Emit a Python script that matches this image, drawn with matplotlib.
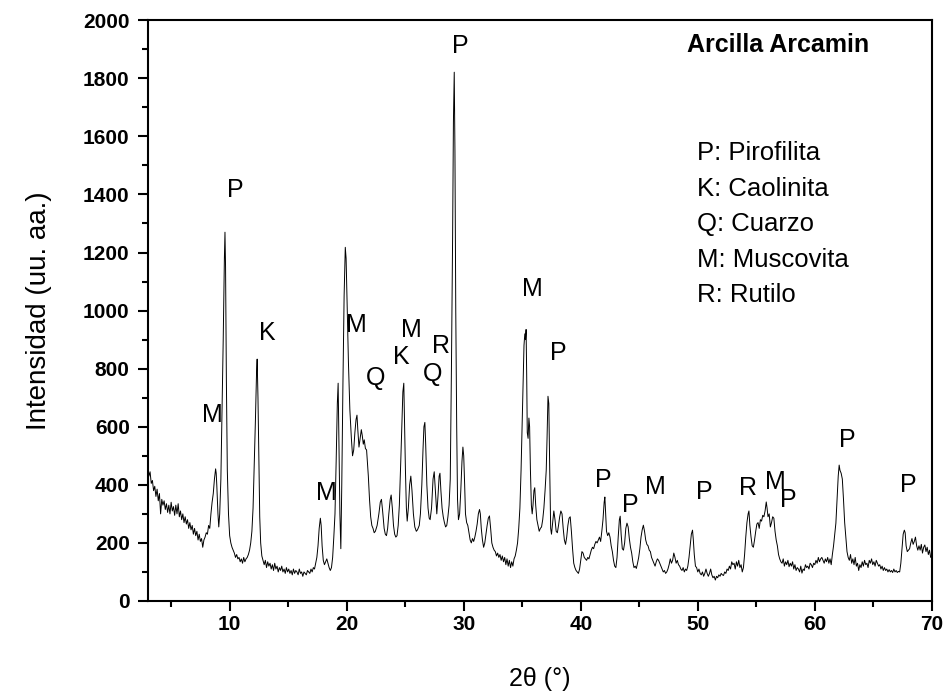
import matplotlib
matplotlib.use("Agg")
import matplotlib.pyplot as plt
from matplotlib.ticker import MultipleLocator

plt.rcParams['font.family'] = ['Liberation Sans', 'DejaVu Sans']

# XRD pattern, read in segments (2theta in degrees, intensity in a.u.)
two_theta_a = [
    3.0, 3.1, 3.2, 3.3, 3.4, 3.5, 3.6, 3.7, 3.8, 3.9,
    4.0, 4.1, 4.2, 4.3, 4.4, 4.5, 4.6, 4.7, 4.8, 4.9,
    5.0, 5.1, 5.2, 5.3, 5.4, 5.5, 5.6, 5.7, 5.8, 5.9,
    6.0, 6.1, 6.2, 6.3, 6.4, 6.5, 6.6, 6.7, 6.8, 6.9,
    7.0, 7.1, 7.2, 7.3, 7.4, 7.5, 7.6, 7.7, 7.8, 7.9,
    8.0, 8.1, 8.2, 8.3, 8.4, 8.5, 8.6, 8.7, 8.8, 8.85,
    8.9, 9.0, 9.07, 9.15, 9.25, 9.35, 9.45, 9.55, 9.6, 9.65,
    9.72, 9.8, 9.9, 10.0, 10.1, 10.2, 10.3, 10.4, 10.5, 10.6,
    10.7, 10.8, 10.9, 11.0, 11.1, 11.2, 11.3, 11.4, 11.5, 11.6,
    11.7, 11.8, 11.9, 12.0, 12.1, 12.2, 12.3, 12.35, 12.42, 12.5,
    12.57, 12.65]
counts_a = [
    470, 430, 445, 405, 415, 380, 395, 360, 385, 345,
    370, 300, 350, 330, 345, 315, 335, 305, 330, 300,
    340, 310, 325, 295, 330, 300, 335, 290, 310, 280,
    300, 270, 290, 265, 280, 250, 270, 245, 260, 230,
    250, 225, 240, 210, 230, 205, 215, 185, 210, 220,
    235, 230, 260, 250, 300, 340, 370, 420, 455, 440,
    400, 300, 255, 300, 420, 650, 900, 1180, 1270, 1150,
    760, 450, 300, 225, 200, 185, 175, 165, 150, 160,
    145, 150, 135, 145, 130, 150, 135, 145, 150, 160,
    175, 200, 240, 320, 470, 620, 790, 833, 700, 480,
    290, 200]

two_theta_b = [
    12.75, 12.85, 12.95, 13.05, 13.15, 13.25, 13.35, 13.45, 13.55, 13.65,
    13.75, 13.85, 13.95, 14.05, 14.15, 14.25, 14.35, 14.45, 14.55, 14.65,
    14.75, 14.85, 14.95, 15.05, 15.15, 15.25, 15.35, 15.45, 15.55, 15.65,
    15.75, 15.85, 15.95, 16.05, 16.15, 16.25, 16.35, 16.45, 16.55, 16.65,
    16.75, 16.85, 16.95, 17.05, 17.15, 17.25, 17.35, 17.45, 17.55, 17.65,
    17.75, 17.82, 17.9, 18.0, 18.1, 18.2, 18.3, 18.4, 18.5, 18.6,
    18.7, 18.8, 18.9, 19.0, 19.1, 19.2, 19.27, 19.35, 19.42, 19.5]
counts_b = [
    155, 140, 125, 140, 115, 135, 120, 130, 110, 125,
    105, 130, 110, 120, 100, 115, 105, 120, 100, 110,
    95, 115, 100, 110, 95, 105, 90, 110, 95, 105,
    100, 90, 110, 95, 100, 85, 100, 95, 90, 105,
    100, 95, 110, 100, 115, 110, 130, 150, 190, 250,
    285, 260, 190, 140, 125, 135, 145, 130, 115, 105,
    115, 150, 220, 300, 480, 680, 750, 500, 300, 180]

two_theta_c = [
    19.58, 19.68, 19.78, 19.88, 19.95, 20.05, 20.15, 20.27, 20.4, 20.5,
    20.6, 20.7, 20.8, 20.88, 20.95, 21.05, 21.15, 21.25, 21.33, 21.42,
    21.5, 21.6, 21.7, 21.78, 21.85, 21.95, 22.05, 22.15, 22.25, 22.35,
    22.45, 22.6, 22.75, 22.87, 22.97, 23.07, 23.2, 23.3, 23.4, 23.5,
    23.6, 23.72, 23.8, 23.9, 24.0, 24.1, 24.2, 24.3, 24.4, 24.5,
    24.62, 24.72, 24.8, 24.88, 24.95, 25.02, 25.1, 25.17, 25.27, 25.38,
    25.48, 25.58, 25.7, 25.82, 25.95, 26.05, 26.2]
counts_c = [
    400, 750, 1050, 1218, 1180, 1000, 820, 660, 560, 500,
    520, 580, 625, 640, 590, 530, 560, 590, 570, 540,
    555, 525, 520, 470, 430, 350, 290, 260, 250, 235,
    240, 260, 300, 340, 350, 310, 250, 230, 225, 250,
    300, 350, 365, 320, 260, 230, 220, 225, 260, 330,
    480, 620, 720, 750, 600, 450, 320, 275, 320, 400,
    430, 380, 300, 255, 240, 245, 260]

two_theta_d = [
    26.3, 26.42, 26.52, 26.6, 26.68, 26.75, 26.85, 26.95, 27.05, 27.13,
    27.25, 27.38, 27.48, 27.58, 27.7, 27.8, 27.9, 27.97, 28.05, 28.15,
    28.25, 28.35, 28.45, 28.55, 28.65, 28.75, 28.85, 28.95, 29.05, 29.12,
    29.19, 29.25, 29.32, 29.4, 29.47, 29.55, 29.65, 29.75, 29.85, 29.93,
    30.0, 30.08, 30.15, 30.25, 30.35, 30.45, 30.55, 30.65, 30.75, 30.85,
    30.95, 31.05, 31.15, 31.25, 31.35, 31.42, 31.5, 31.6, 31.7, 31.8,
    31.9, 32.0, 32.1, 32.2, 32.3, 32.4, 32.5, 32.6, 32.7, 32.8,
    32.9, 33.0, 33.1, 33.2, 33.3, 33.4, 33.5, 33.6, 33.7, 33.8,
    33.9, 34.0, 34.1, 34.2, 34.3]
counts_d = [
    300, 400, 520, 600, 615, 540, 400, 320, 285, 280,
    320, 420, 445, 380, 300, 360, 430, 440, 380, 320,
    290, 270, 255, 260, 290, 330, 420, 800, 1250, 1650,
    1821, 1550, 1000, 600, 350, 280, 300, 380, 480, 530,
    500, 400, 300, 270, 260, 235, 210, 200, 215, 205,
    220, 240, 265, 300, 315, 300, 250, 210, 185, 200,
    230, 260, 285, 293, 250, 200, 185, 175, 170, 155,
    165, 150, 160, 140, 155, 135, 150, 125, 145, 120,
    140, 115, 135, 120, 145]

two_theta_e = [
    34.4, 34.5, 34.6, 34.7, 34.8, 34.9, 35.0, 35.08, 35.15, 35.22,
    35.28, 35.33, 35.38, 35.43, 35.5, 35.57, 35.63, 35.7, 35.78, 35.85,
    35.92, 36.0, 36.07, 36.15, 36.25, 36.35, 36.45, 36.55, 36.65, 36.75,
    36.85, 36.95, 37.05, 37.12, 37.2, 37.27, 37.35, 37.43, 37.5, 37.6,
    37.7, 37.8, 37.9, 38.0, 38.1, 38.2, 38.3, 38.4, 38.5, 38.6,
    38.7, 38.8, 38.9, 39.0, 39.1, 39.2, 39.3, 39.4, 39.5, 39.6,
    39.7, 39.8, 39.9, 40.0, 40.1, 40.2, 40.3, 40.4, 40.5, 40.6,
    40.7, 40.8, 40.9, 41.0, 41.1, 41.2, 41.3, 41.4, 41.5, 41.6,
    41.7]
counts_e = [
    155, 175, 200, 250, 320, 450, 620, 760, 880, 920,
    900, 935, 780, 580, 560, 630, 600, 450, 330, 300,
    330, 380, 390, 330, 280, 260, 240, 250, 255, 280,
    320, 380, 450, 560, 705, 680, 450, 250, 230, 270,
    310, 280, 240, 235, 260, 290, 310, 300, 250, 210,
    195, 220, 260, 285, 290, 240, 180, 130, 115, 105,
    100, 95, 110, 140, 170, 165, 150, 145, 140, 150,
    145, 160, 175, 185, 180, 195, 205, 200, 210, 220,
    205]

two_theta_f = [
    41.8, 41.9, 42.0, 42.06, 42.12, 42.2, 42.3, 42.4, 42.5, 42.6,
    42.7, 42.8, 42.9, 43.0, 43.1, 43.2, 43.3, 43.37, 43.45, 43.55,
    43.65, 43.75, 43.85, 43.95, 44.05, 44.15, 44.25, 44.35, 44.45, 44.55,
    44.65, 44.75, 44.85, 44.95, 45.05, 45.15, 45.25, 45.35, 45.45, 45.55,
    45.65, 45.75, 45.85, 45.95, 46.05, 46.15, 46.25, 46.35, 46.45, 46.55,
    46.65, 46.75, 46.85, 46.95, 47.05, 47.15, 47.25, 47.35, 47.45, 47.55,
    47.65, 47.75, 47.85, 47.95, 48.05, 48.15, 48.25, 48.35, 48.45, 48.55,
    48.65, 48.75, 48.85, 48.95, 49.05, 49.15, 49.25, 49.35, 49.45, 49.55,
    49.62, 49.7, 49.8, 49.9]
counts_f = [
    240, 280, 340, 358, 310, 240, 225, 235, 220, 190,
    170, 140, 120, 115, 150, 220, 280, 292, 230, 180,
    175, 200, 250, 268, 255, 215, 185, 165, 135, 115,
    120, 112, 130, 150, 180, 220, 245, 261, 240, 210,
    195, 190, 175, 170, 150, 140, 130, 120, 135, 145,
    140, 130, 120, 110, 100, 105, 95, 100, 110, 125,
    145, 130, 140, 165, 150, 130, 140, 125, 120, 110,
    105, 115, 100, 110, 105, 120, 150, 190, 230, 244,
    210, 160, 120, 115]

two_theta_g = [
    50.0, 50.1, 50.2, 50.3, 50.4, 50.5, 50.6, 50.7, 50.8, 50.9,
    51.0, 51.1, 51.2, 51.3, 51.4, 51.5, 51.6, 51.7, 51.8, 51.9,
    52.0, 52.1, 52.2, 52.3, 52.4, 52.5, 52.6, 52.7, 52.8, 52.9,
    53.0, 53.1, 53.2, 53.3, 53.4, 53.5, 53.6, 53.7, 53.8, 53.9,
    54.0, 54.1, 54.2, 54.3, 54.37, 54.45, 54.55, 54.65, 54.75, 54.85,
    54.95, 55.05, 55.15, 55.25, 55.35, 55.45, 55.55, 55.65, 55.75, 55.85,
    55.92, 56.0, 56.1, 56.2, 56.3, 56.4, 56.5, 56.6, 56.7, 56.8,
    56.9, 57.0, 57.1, 57.2, 57.3, 57.4, 57.5, 57.6, 57.7, 57.8,
    57.9, 58.0, 58.1, 58.2, 58.3, 58.4, 58.5, 58.6, 58.7, 58.8,
    58.9, 59.0, 59.1, 59.2, 59.3, 59.4, 59.5, 59.6, 59.7, 59.8,
    59.9]
counts_g = [
    100, 110, 95, 90, 100, 85, 95, 110, 95, 85,
    95, 110, 90, 80, 85, 72, 85, 80, 90, 85,
    95, 90, 88, 100, 95, 110, 105, 120, 110, 135,
    125, 130, 110, 135, 120, 140, 115, 125, 100, 115,
    160, 220, 270, 300, 310, 260, 220, 190, 185, 210,
    240, 265, 270, 250, 280, 275, 295, 290, 310, 341,
    320, 290, 300, 255, 270, 290, 285, 240, 210, 190,
    160, 145, 135, 130, 145, 120, 135, 125, 140, 118,
    130, 120, 135, 110, 125, 105, 115, 110, 100, 120,
    96, 110, 105, 125, 115, 120, 110, 130, 125, 115,
    130]

two_theta_h = [
    60.0, 60.1, 60.2, 60.3, 60.4, 60.5, 60.6, 60.7, 60.8, 60.9,
    61.0, 61.1, 61.2, 61.3, 61.4, 61.5, 61.6, 61.7, 61.8, 61.9,
    62.0, 62.08, 62.15, 62.25, 62.35, 62.45, 62.55, 62.65, 62.75, 62.85,
    62.95, 63.05, 63.15, 63.25, 63.35, 63.45, 63.55, 63.65, 63.75, 63.85,
    63.95, 64.05, 64.15, 64.25, 64.35, 64.45, 64.55, 64.65, 64.75, 64.85,
    64.95, 65.05, 65.15, 65.25, 65.35, 65.45, 65.55, 65.65, 65.75, 65.85,
    65.95, 66.05, 66.15, 66.25, 66.35, 66.45, 66.55, 66.65, 66.75, 66.85,
    66.95, 67.05, 67.15, 67.25, 67.35, 67.45, 67.55, 67.65, 67.72, 67.8,
    67.9, 68.0, 68.1, 68.2, 68.3, 68.4, 68.5, 68.6, 68.7, 68.8,
    68.9, 69.0, 69.1, 69.2, 69.3, 69.4, 69.5, 69.6, 69.7, 69.8,
    69.9, 70.0]
counts_h = [
    125, 140, 130, 150, 135, 145, 150, 140, 130, 145,
    135, 150, 130, 145, 125, 160, 190, 230, 268, 350,
    430, 468, 450, 440, 420, 350, 270, 220, 170, 150,
    140, 160, 130, 145, 125, 150, 120, 130, 105, 125,
    115, 135, 120, 140, 125, 130, 115, 140, 130, 145,
    125, 135, 120, 140, 130, 120, 125, 110, 120, 105,
    115, 105, 110, 100, 108, 100, 105, 98, 110, 100,
    105, 98, 102, 100, 130, 180, 230, 244, 235, 190,
    170, 175, 180, 200, 215, 195, 205, 220, 190, 175,
    190, 175, 195, 165, 185, 193, 170, 185, 160, 175,
    150, 155]

two_theta = (two_theta_a + two_theta_b + two_theta_c + two_theta_d
             + two_theta_e + two_theta_f + two_theta_g + two_theta_h)
counts = (counts_a + counts_b + counts_c + counts_d
          + counts_e + counts_f + counts_g + counts_h)

# phase labels over the peaks
peak_letters = ['M', 'P', 'K', 'M', 'M', 'Q', 'K', 'M', 'Q', 'R', 'P',
                'M', 'P', 'P', 'P', 'M', 'P', 'R', 'M', 'P', 'P', 'P']
peak_x = [8.56, 10.5, 13.26, 18.3, 20.86, 22.5, 24.7, 25.56, 27.36, 28.04, 29.75,
          35.9, 38.04, 41.97, 44.2, 46.4, 50.6, 54.3, 56.6, 57.7, 62.8, 68.0]
peak_y = [640, 1415, 922, 372, 950, 768, 840, 933, 781, 878, 1910,
          1074, 854, 416, 330, 392, 375, 389, 410, 348, 554, 399]

phases = ['P: Pirofilita', 'K: Caolinita', 'Q: Cuarzo', 'M: Muscovita', 'R: Rutilo']

fig = plt.figure(figsize=(9.47, 6.98), dpi=100)
ax = fig.add_axes([0.156, 0.139, 0.828, 0.832])

ax.plot(two_theta, counts, color='black', lw=0.7)

for letter, x, y in zip(peak_letters, peak_x, peak_y):
    ax.text(x, y, letter, ha='center', va='center', fontsize=18)

ax.text(0.6875, 0.958, 'Arcilla Arcamin', transform=ax.transAxes,
        fontsize=18, fontweight='bold', va='center', ha='left')
for i, name in enumerate(phases):
    ax.text(0.700, 0.771 - i * 0.061, name, transform=ax.transAxes,
            fontsize=18.5, va='center', ha='left')

ax.set_xlim(3, 70)
ax.set_ylim(0, 2000)
ax.xaxis.set_major_locator(MultipleLocator(10))
ax.xaxis.set_minor_locator(MultipleLocator(5))
ax.yaxis.set_major_locator(MultipleLocator(200))
ax.yaxis.set_minor_locator(MultipleLocator(100))

ax.tick_params(which='major', direction='out', length=7, width=1.5, labelsize=15)
ax.tick_params(axis='y', which='major', pad=6)
ax.tick_params(axis='x', which='major', pad=3)
ax.tick_params(which='minor', direction='out', length=4, width=1.5)
for lab in ax.get_xticklabels() + ax.get_yticklabels():
    lab.set_fontweight('bold')
for sp in ax.spines.values():
    sp.set_linewidth(1.5)

ax.set_xlabel('2θ (°)', fontsize=18, labelpad=24)
ax.set_ylabel('Intensidad (uu. aa.)', fontsize=20, labelpad=22)

fig.savefig('out.png', dpi=100)
